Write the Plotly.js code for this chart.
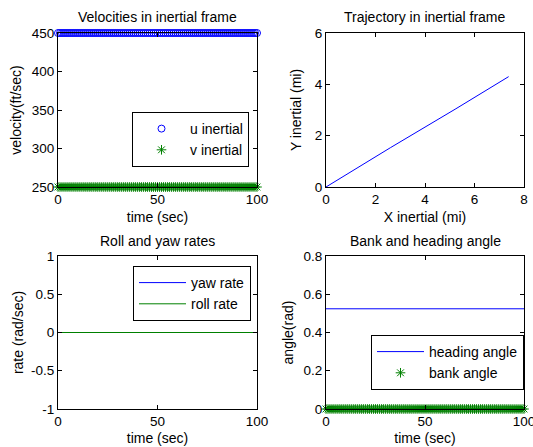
<!DOCTYPE html>
<html>
<head>
<meta charset="utf-8">
<script src="https://cdn.plot.ly/plotly-3.0.1.min.js"></script>
<style>html,body{margin:0;padding:0;background:#fff;}#chart{width:533px;height:447px;}</style>
</head>
<body>
<div id="chart"></div>
<script>
// ---- data ----
const timeSec = [0,1,2,3,4,5,6,7,8,9,10,11,12,13,14,15,16,17,18,19,20,21,22,23,24,25,26,27,28,29,30,31,32,33,34,35,36,37,38,39,40,41,42,43,44,45,46,47,48,49,50,51,52,53,54,55,56,57,58,59,60,61,62,63,64,65,66,67,68,69,70,71,72,73,74,75,76,77,78,79,80,81,82,83,84,85,86,87,88,89,90,91,92,93,94,95,96,97,98,99,100];
const uInertial = [450,450,450,450,450,450,450,450,450,450,450,450,450,450,450,450,450,450,450,450,450,450,450,450,450,450,450,450,450,450,450,450,450,450,450,450,450,450,450,450,450,450,450,450,450,450,450,450,450,450,450,450,450,450,450,450,450,450,450,450,450,450,450,450,450,450,450,450,450,450,450,450,450,450,450,450,450,450,450,450,450,450,450,450,450,450,450,450,450,450,450,450,450,450,450,450,450,450,450,450,450];
const vInertial = [250,250,250,250,250,250,250,250,250,250,250,250,250,250,250,250,250,250,250,250,250,250,250,250,250,250,250,250,250,250,250,250,250,250,250,250,250,250,250,250,250,250,250,250,250,250,250,250,250,250,250,250,250,250,250,250,250,250,250,250,250,250,250,250,250,250,250,250,250,250,250,250,250,250,250,250,250,250,250,250,250,250,250,250,250,250,250,250,250,250,250,250,250,250,250,250,250,250,250,250,250];
const bankAngle = [0,0,0,0,0,0,0,0,0,0,0,0,0,0,0,0,0,0,0,0,0,0,0,0,0,0,0,0,0,0,0,0,0,0,0,0,0,0,0,0,0,0,0,0,0,0,0,0,0,0,0,0,0,0,0,0,0,0,0,0,0,0,0,0,0,0,0,0,0,0,0,0,0,0,0,0,0,0,0,0,0,0,0,0,0,0,0,0,0,0,0,0,0,0,0,0,0,0,0,0,0];
const lineTime = [0, 100];
const yawRate = [0, 0];
const rollRate = [0, 0];
const headingAngle = [0.524, 0.524];
const xInertialMi = [0, 2.6, 5.25, 7.38];
const yInertialMi = [0, 1.53, 3.05, 4.3];

const titles = ["Velocities in inertial frame", "Trajectory in inertial frame", "Roll and yaw rates", "Bank and heading angle"];
const xTitles = ["time (sec)", "X inertial (mi)", "time (sec)", "time (sec)"];
const yTitles = ["velocity(ft/sec)", "Y inertial (mi)", "rate (rad/sec)", "angle(rad)"];
const timeTicks = [0, 50, 100];
const velTicks = [250, 300, 350, 400, 450];
const trajXTicks = [0, 2, 4, 6, 8];
const trajYTicks = [0, 2, 4, 6];
const rateTicks = [-1, -0.5, 0, 0.5, 1];
const rateTickText = ["-1", "-0.5", "0", "0.5", "1"];
const angleTicks = [0, 0.2, 0.4, 0.6, 0.8];

// ---- layout geometry ----
const W = 533, H = 447;
const FONT = '"Liberation Sans", Arial, Helvetica, sans-serif';
const BLUE = 'rgb(0,0,255)', GREEN = 'rgb(0,128,0)';
const colL = [58 / W, 257 / W], colR = [326 / W, 524 / W];
const rowT = [1 - 187 / H, 1 - 33 / H], rowB = [1 - 409 / H, 1 - 256 / H];

function axisBase(extra) {
  return Object.assign({
    showline: true, linecolor: 'black', linewidth: 1, mirror: 'ticks',
    ticks: 'inside', ticklen: 4, tickcolor: 'black', tickwidth: 1,
    showgrid: false, zeroline: false, fixedrange: true, ticklabeloverflow: 'allow',
    tickfont: {family: FONT, size: 13.5, color: 'black'},
  }, extra);
}
function axTitle(t, standoff) {
  return {text: t, font: {family: FONT, size: 14, color: 'black'}, standoff: standoff};
}

const traces = [
  {x: timeSec, y: uInertial, xaxis: 'x', yaxis: 'y', mode: 'markers', name: 'u inertial', legend: 'legend',
   cliponaxis: false, marker: {symbol: 'circle-open', size: 7, color: BLUE, line: {width: 1, color: BLUE}}},
  {x: timeSec, y: vInertial, xaxis: 'x', yaxis: 'y', mode: 'markers', name: 'v inertial', legend: 'legend',
   cliponaxis: false, marker: {symbol: 'asterisk-open', size: 8, color: GREEN, line: {width: 1, color: GREEN}}},
  {x: xInertialMi, y: yInertialMi, xaxis: 'x2', yaxis: 'y2', mode: 'lines', showlegend: false,
   line: {color: BLUE, width: 1}},
  {x: lineTime, y: yawRate, xaxis: 'x3', yaxis: 'y3', mode: 'lines', name: 'yaw rate', legend: 'legend2',
   line: {color: BLUE, width: 1}},
  {x: lineTime, y: rollRate, xaxis: 'x3', yaxis: 'y3', mode: 'lines', name: 'roll rate', legend: 'legend2',
   line: {color: GREEN, width: 1}},
  {x: lineTime, y: headingAngle, xaxis: 'x4', yaxis: 'y4', mode: 'lines', name: 'heading angle', legend: 'legend3',
   line: {color: BLUE, width: 1}},
  {x: timeSec, y: bankAngle, xaxis: 'x4', yaxis: 'y4', mode: 'markers', name: 'bank angle', legend: 'legend3',
   cliponaxis: false, marker: {symbol: 'asterisk-open', size: 8, color: GREEN, line: {width: 1, color: GREEN}}},
];

function legendBox(x, y) {
  return {x: x / W, y: 1 - y / H, xanchor: 'left', yanchor: 'top', xref: 'paper', yref: 'paper',
    bgcolor: 'white', bordercolor: 'black', borderwidth: 1, itemwidth: 47,
    font: {family: FONT, size: 14, color: 'black'}, tracegroupgap: 0};
}

const layout = {
  width: W, height: H, margin: {l: 0, r: 0, t: 0, b: 0},
  paper_bgcolor: 'white', plot_bgcolor: 'white', showlegend: true,
  font: {family: FONT, size: 14, color: 'black'},
  xaxis: axisBase({domain: colL, anchor: 'y', range: [0, 100], tickvals: timeTicks, title: axTitle(xTitles[0], 5)}),
  yaxis: axisBase({domain: rowT, anchor: 'x', range: [250, 450], tickvals: velTicks, title: axTitle(yTitles[0], 6)}),
  xaxis2: axisBase({domain: colR, anchor: 'y2', range: [0, 8], tickvals: trajXTicks, title: axTitle(xTitles[1], 5)}),
  yaxis2: axisBase({domain: rowT, anchor: 'x2', range: [0, 6], tickvals: trajYTicks, title: axTitle(yTitles[1], 9)}),
  xaxis3: axisBase({domain: colL, anchor: 'y3', range: [0, 100], tickvals: timeTicks, title: axTitle(xTitles[2], 4)}),
  yaxis3: axisBase({domain: rowB, anchor: 'x3', range: [-1, 1], tickvals: rateTicks, ticktext: rateTickText, title: axTitle(yTitles[2], 4)}),
  xaxis4: axisBase({domain: colR, anchor: 'y4', range: [0, 100], tickvals: timeTicks, title: axTitle(xTitles[3], 4)}),
  yaxis4: axisBase({domain: rowB, anchor: 'x4', range: [0, 0.8], tickvals: angleTicks, title: axTitle(yTitles[3], 6)}),
  legend: legendBox(132, 112),
  legend2: legendBox(133, 266),
  legend3: legendBox(371, 335),
  annotations: [
    {text: titles[0], x: (colL[0] + colL[1]) / 2, y: 1 - 17 / H},
    {text: titles[1], x: (colR[0] + colR[1]) / 2, y: 1 - 17 / H},
    {text: titles[2], x: (colL[0] + colL[1]) / 2, y: 1 - 241 / H},
    {text: titles[3], x: (colR[0] + colR[1]) / 2, y: 1 - 241 / H},
  ].map(a => Object.assign(a, {xref: 'paper', yref: 'paper', xanchor: 'center', yanchor: 'middle',
    showarrow: false, font: {family: FONT, size: 14, color: 'black'}})),
};

Plotly.newPlot('chart', traces, layout, {staticPlot: true, displayModeBar: false});
</script>
</body>
</html>
